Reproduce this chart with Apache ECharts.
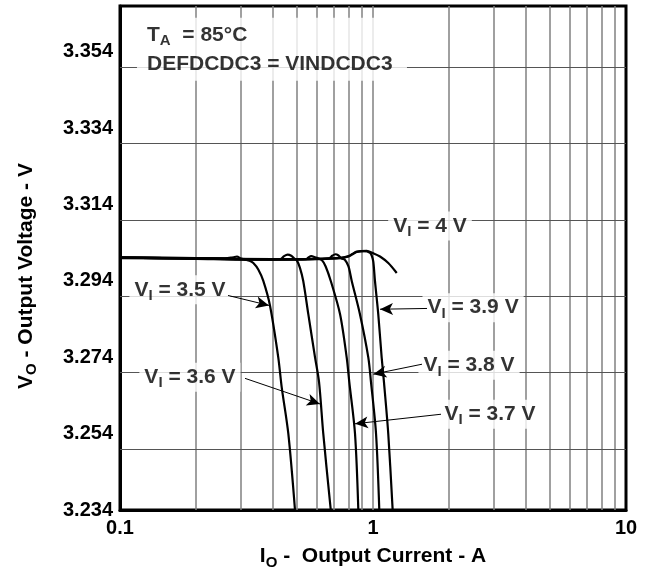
<!DOCTYPE html>
<html><head><meta charset="utf-8">
<script src="https://cdn.jsdelivr.net/npm/echarts@6/dist/echarts.min.js"></script>
<style>html,body{margin:0;padding:0;background:#fff}#c{width:650px;height:575px}</style>
</head><body><div id="c"></div>
<script>
// ---- data ----
const xTickValues = [0.1, 1, 10];
const yTickValues = [3.234, 3.254, 3.274, 3.294, 3.314, 3.334, 3.354];
const xGridValues = [0.2, 0.3, 0.4, 0.5, 0.6, 0.7, 0.8, 0.9, 1, 2, 3, 4, 5, 6, 7, 8, 9];
const yGridValues = [3.254, 3.274, 3.294, 3.314, 3.334, 3.354];

const curve35 = [[0.1,3.3001],[0.15,3.3000],[0.2,3.2999],[0.26,3.2999],[0.28,3.3002],[0.29,3.3004],[0.30,3.2999],[0.312,3.2996],[0.325,3.2993],[0.3365,3.2987],[0.352,3.2970],[0.3685,3.2940],[0.3917,3.2875],[0.4222,3.2740],[0.4356,3.2662],[0.4627,3.2540],[0.4917,3.2340]];
const curve36 = [[0.1,3.3000],[0.2,3.2998],[0.3,3.2996],[0.43,3.2997],[0.445,3.3005],[0.46,3.3009],[0.475,3.3006],[0.49,3.2998],[0.5,3.2994],[0.514,3.2975],[0.530,3.2940],[0.555,3.2853],[0.590,3.2740],[0.612,3.2675],[0.636,3.2540],[0.681,3.2340]];
const curve37 = [[0.1,3.3001],[0.2,3.2999],[0.3,3.2997],[0.45,3.2996],[0.545,3.2997],[0.557,3.3002],[0.57,3.3005],[0.59,3.3002],[0.627,3.2995],[0.65,3.2978],[0.681,3.2940],[0.741,3.2853],[0.787,3.2740],[0.806,3.2675],[0.849,3.2540],[0.875,3.2340]];
const curve38 = [[0.1,3.3001],[0.2,3.2999],[0.4,3.2996],[0.6,3.2997],[0.67,3.2999],[0.69,3.3006],[0.71,3.3010],[0.73,3.3007],[0.75,3.2999],[0.775,3.2995],[0.80,3.2978],[0.824,3.2940],[0.888,3.2853],[0.958,3.2740],[0.982,3.2675],[1.028,3.2540],[1.059,3.2340]];
const curve39 = [[0.1,3.3001],[0.2,3.2999],[0.4,3.2997],[0.6,3.2998],[0.75,3.3000],[0.80,3.3004],[0.83,3.3010],[0.862,3.3016],[0.92,3.3018],[0.973,3.3014],[0.99,3.3005],[1.003,3.2990],[1.018,3.2940],[1.049,3.2853],[1.082,3.2740],[1.105,3.2675],[1.149,3.2540],[1.196,3.2340]];
const curve40 = [[0.1,3.3002],[0.2,3.3000],[0.4,3.2997],[0.6,3.2998],[0.75,3.3001],[0.80,3.3005],[0.83,3.3011],[0.862,3.3017],[0.944,3.3019],[1.0,3.3013],[1.066,3.3004],[1.149,3.2987],[1.241,3.2961]];

const curveNames = ['VI = 3.5 V','VI = 3.6 V','VI = 3.7 V','VI = 3.8 V','VI = 3.9 V','VI = 4 V'];
const curves = [curve35, curve36, curve37, curve38, curve39, curve40];

// annotation labels: [x, y, rich text]
const labelItems = [
  [0.1726, 3.2917, '{a|V}{s|I}{a| = 3.5 V}'],
  [0.189, 3.2688, '{a|V}{s|I}{a| = 3.6 V}'],
  [2.90, 3.2591, '{a|V}{s|I}{a| = 3.7 V}'],
  [2.396, 3.2719, '{a|V}{s|I}{a| = 3.8 V}'],
  [2.486, 3.2870, '{a|V}{s|I}{a| = 3.9 V}'],
  [1.680, 3.3084, '{a|V}{s|I}{a| = 4 V}']
];
// arrows: [fromX, fromY, toX, toY]
const arrowItems = [
  [0.2672, 3.2902, 0.388, 3.2876],
  [0.312, 3.2685, 0.617, 3.2618],
  [1.857, 3.2591, 0.849, 3.2566],
  [1.562, 3.2722, 1.003, 3.2696],
  [1.635, 3.2868, 1.066, 3.2866]
];
const conditionAnchor = [0.1167, 3.3629];
const conditionText = '{a|T}{s|A}{a|  = 85°C}\n{a|DEFDCDC3 = VINDCDC3}';

// ---- chart ----
const FONT = 'Liberation Sans, Arial, Helvetica, sans-serif';
const chart = echarts.init(document.getElementById('c'), null, {renderer: 'canvas'});

const richStyle = (size, lh, sub) => ({
  a: {fontSize: size, fontWeight: 'bold', fontFamily: FONT, color: '#000', lineHeight: lh},
  s: {fontSize: sub, fontWeight: 'bold', fontFamily: FONT, color: '#000', lineHeight: lh, padding: [12, 0, 0, 0]}
});

const series = [];
series.push({
  type: 'line', data: [], z: 1, silent: true,
  markLine: {
    z: 1, silent: true, animation: false, symbol: ['none', 'none'], label: {show: false},
    emphasis: {disabled: true},
    lineStyle: {color: '#808080', width: 1.5, type: 'solid'},
    data: xGridValues.map(v => ({xAxis: v}))
      .concat(yGridValues.map(v => ({yAxis: v, lineStyle: {color: '#555', width: 1.2, type: 'solid'}})))
  }
});
curves.forEach((c, i) => {
  series.push({
    name: curveNames[i], type: 'line', data: c, showSymbol: false, symbol: 'none',
    smooth: 0.3, z: 2, clip: true,
    lineStyle: {color: '#000', width: 2.2}
  });
});
series.push({
  type: 'scatter', z: 4, symbolSize: 0, silent: true,
  data: labelItems.map(d => ({
    value: [d[0], d[1]],
    label: {
      show: true, position: 'inside', formatter: d[2],
      backgroundColor: '#fff', padding: [2, 5, 2, 5],
      rich: richStyle(21, 25, 15)
    }
  })).concat([{
    value: conditionAnchor,
    label: {
      show: true, position: [0, 0], align: 'left', verticalAlign: 'top',
      formatter: conditionText, backgroundColor: '#fff',
      padding: [3, 10, 2, 10], width: 250,
      rich: richStyle(21, 29, 15)
    }
  }]),
  markLine: {
    z: 5, silent: true, animation: false, label: {show: false},
    emphasis: {disabled: true},
    lineStyle: {color: '#000', width: 1, type: 'solid'},
    itemStyle: {color: '#222'},
    data: arrowItems.map(a => [
      {coord: [a[0], a[1]], symbol: 'none'},
      {coord: [a[2], a[3]], symbol: 'arrow', symbolSize: [9, 13]}
    ])
  }
});

chart.setOption({
  animation: false,
  backgroundColor: '#fff',
  grid: {left: 120, right: 24, top: 6, bottom: 62, show: true, borderColor: '#000', borderWidth: 3, containLabel: false},
  xAxis: {
    type: 'log', logBase: 10, min: 0.1, max: 10,
    name: '{a|I}{s|O}{a| -  Output Current - A}',
    nameLocation: 'middle', nameGap: 32,
    nameTextStyle: {rich: richStyle(21, 24, 15)},
    axisLine: {show: true, lineStyle: {color: '#000', width: 3}},
    axisTick: {show: false},
    splitLine: {show: false},
    minorTick: {show: false}, minorSplitLine: {show: false},
    axisLabel: {
      customValues: xTickValues,
      margin: 8, color: '#000', fontSize: 20, fontWeight: 'bold', fontFamily: FONT,
      formatter: v => (v < 1 ? (+v).toFixed(1) : String(Math.round(v)))
    }
  },
  yAxis: {
    type: 'value', min: 3.234, max: 3.366,
    name: '{a|V}{s|O}{a| - Output Voltage - V}',
    nameLocation: 'middle', nameGap: 82,
    nameTextStyle: {rich: richStyle(21, 24, 15), padding: [0, 36, 0, 0]},
    axisLine: {show: true, lineStyle: {color: '#000', width: 3}},
    axisTick: {show: false},
    splitLine: {show: false},
    axisLabel: {
      customValues: yTickValues,
      margin: 7, color: '#000', fontSize: 20, fontWeight: 'bold', fontFamily: FONT,
      formatter: v => (+v).toFixed(3)
    }
  },
  series: series
});
</script>
</body></html>
